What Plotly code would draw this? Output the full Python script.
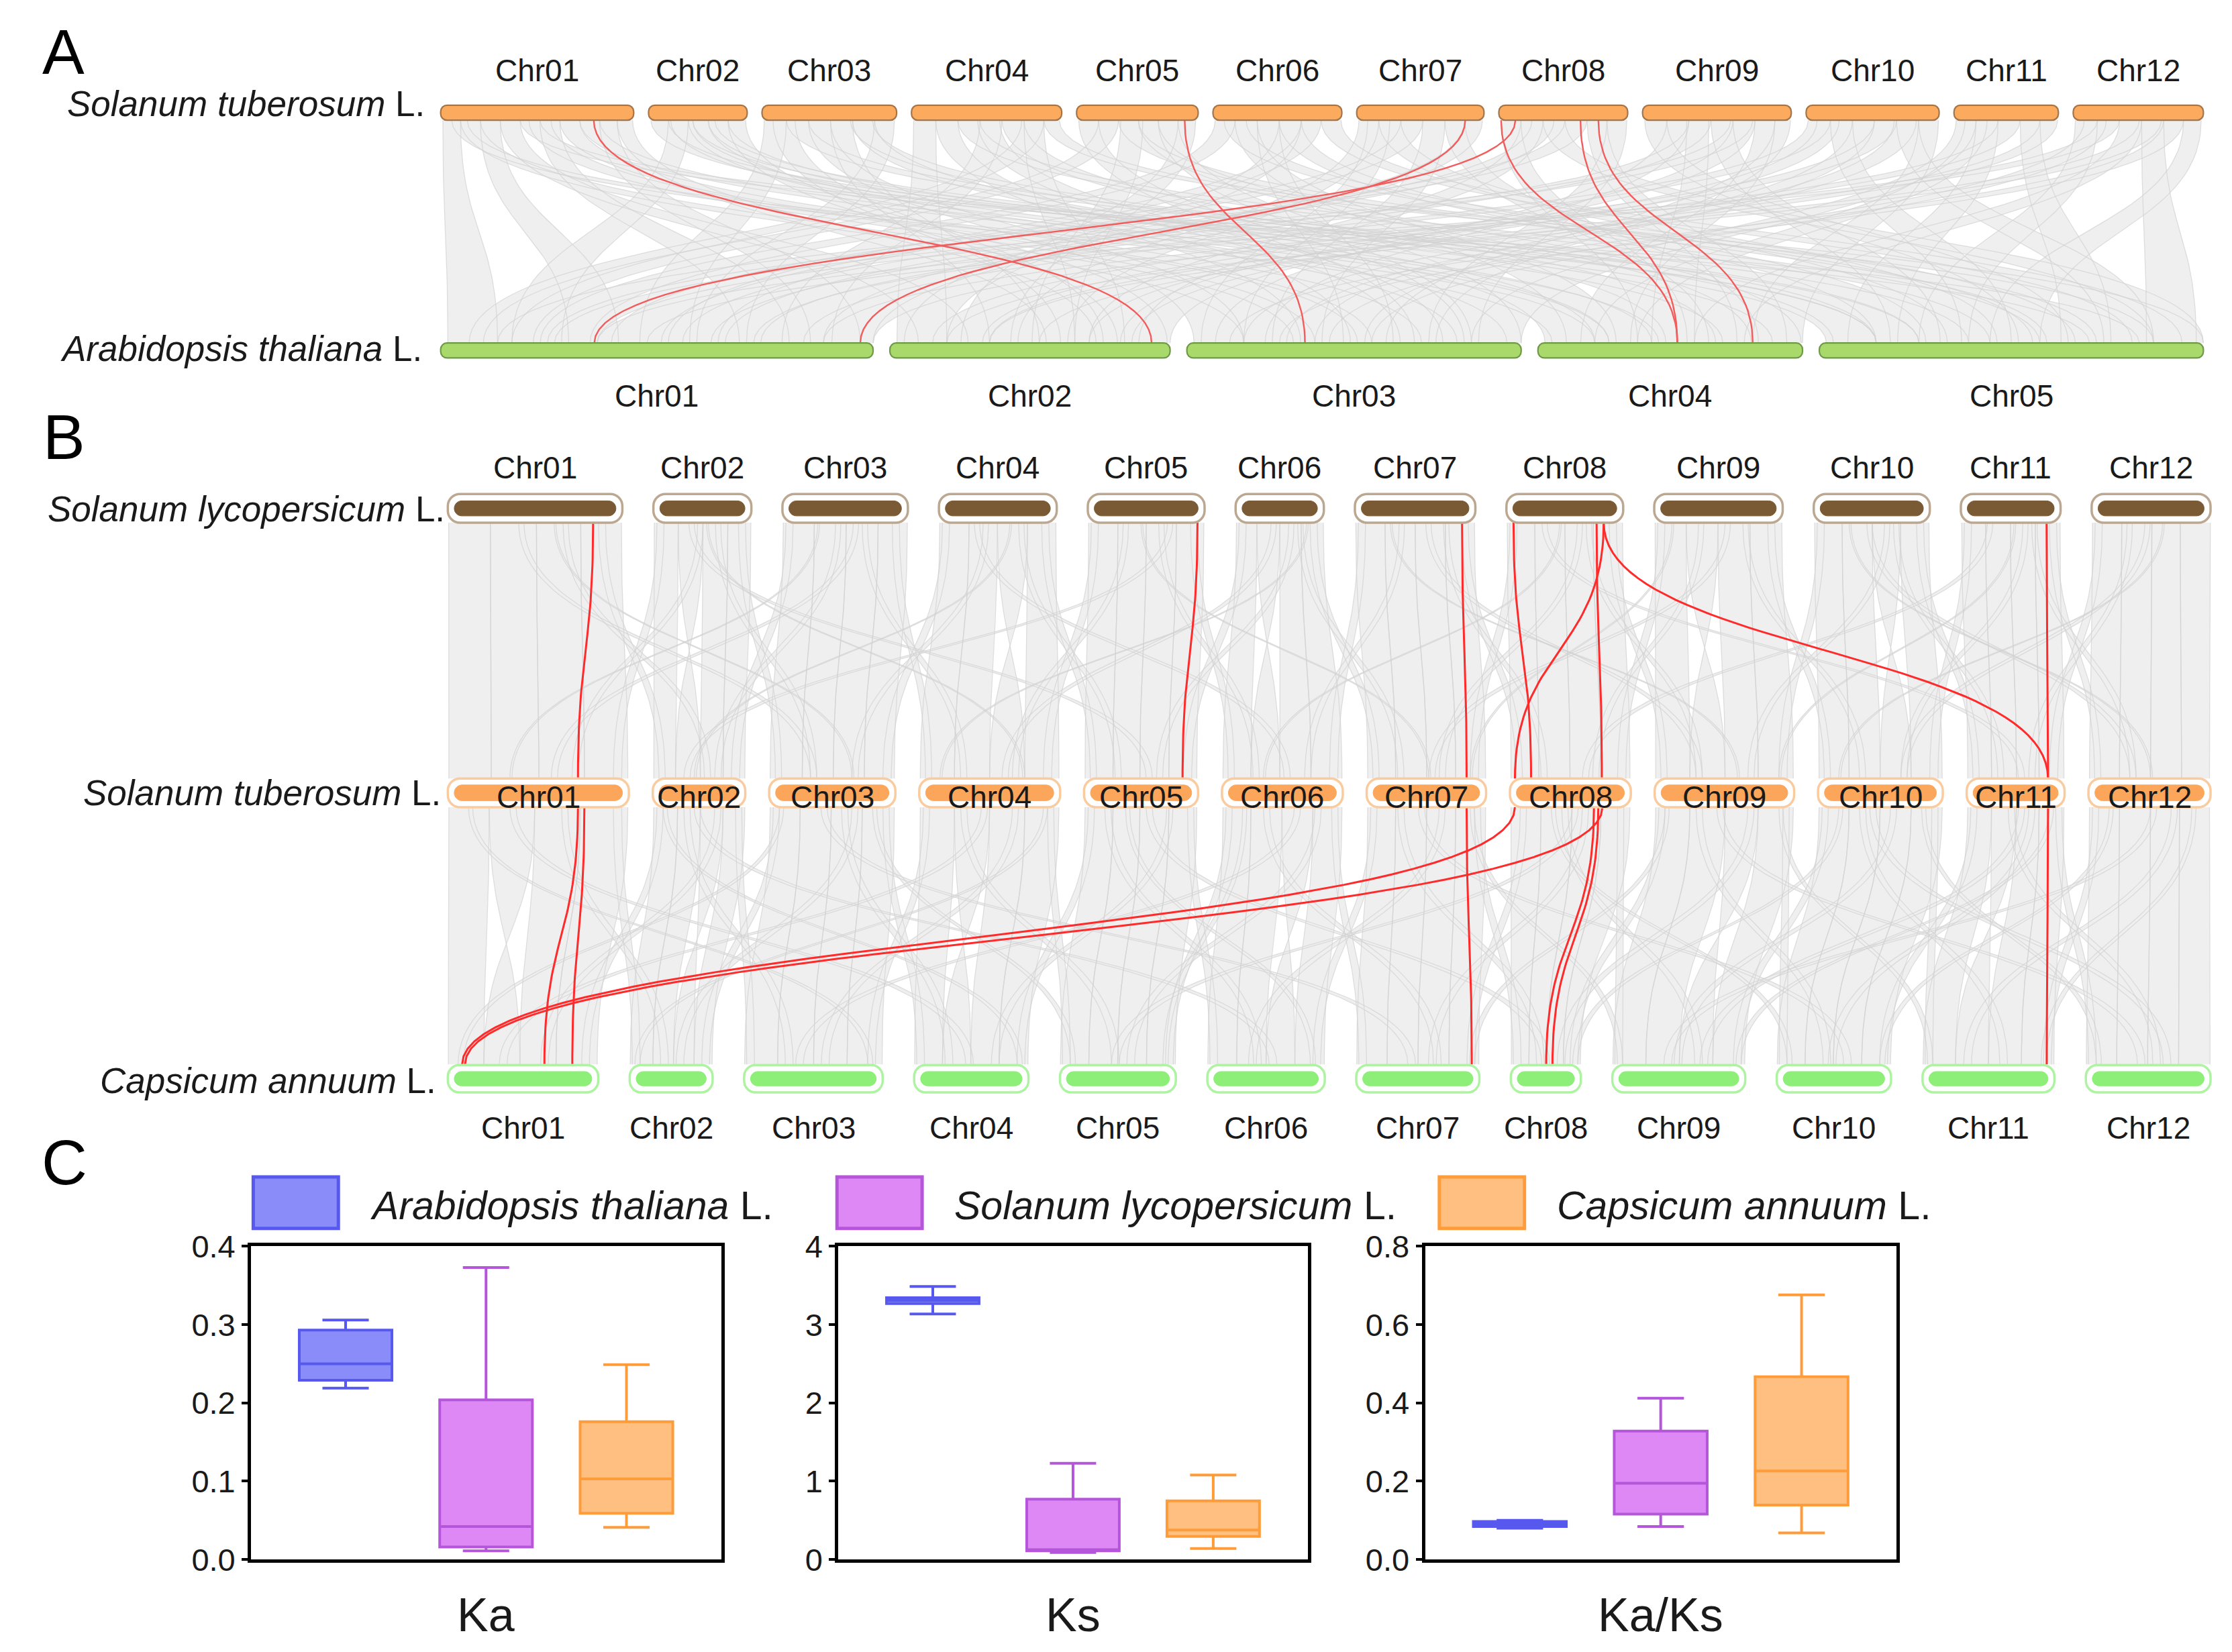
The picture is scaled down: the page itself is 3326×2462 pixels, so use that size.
import numpy as np
import plotly.graph_objects as go

FONT = "Liberation Sans, Arial, Helvetica, sans-serif"
W_PX, H_PX = 3326, 2462
U = 3326 / 1560.0            # pixels per layout unit (layout units follow the reference picture)
W_U = W_PX / U
# the photographed page shows the figure area between these pixel rows
SHOT_TOP, SHOT_H = 28.5, 2405.0
Y_TOP_U, Y_BOT_U = SHOT_TOP / U, (SHOT_TOP + SHOT_H) / U

def fy(y_u):                 # layout-unit row (from top) -> paper fraction (from bottom)
    return 1 - (y_u * U - SHOT_TOP) / SHOT_H

# ---------------- chromosome names and lengths (Mb) ----------------
CHR12 = ["Chr01", "Chr02", "Chr03", "Chr04", "Chr05", "Chr06",
         "Chr07", "Chr08", "Chr09", "Chr10", "Chr11", "Chr12"]
CHR5 = ["Chr01", "Chr02", "Chr03", "Chr04", "Chr05"]
ST_LEN = [87.5, 44.7, 61.0, 68.1, 55.1, 58.4, 57.7, 58.4, 67.4, 60.3, 47.3, 59.0]   # S. tuberosum
AT_LEN = [30.4, 19.7, 23.5, 18.6, 27.0]                                             # A. thaliana
SL_LEN = [98.5, 55.3, 70.8, 66.5, 65.9, 49.8, 68.0, 65.9, 72.5, 65.5, 56.3, 67.1]   # S. lycopersicum
CA_LEN = [292, 161, 269, 222, 225, 228, 239, 136, 258, 222, 256, 242]               # C. annuum

SP_ST = "<i>Solanum tuberosum</i> L."
SP_AT = "<i>Arabidopsis thaliana</i> L."
SP_SL = "<i>Solanum lycopersicum</i> L."
SP_CA = "<i>Capsicum annuum</i> L."

# ---------------- highlighted (red) gene pairs: (chrA, Mb, chrB, Mb) ----------------
A_RED = [(1, 69.4, 2, 18.4), (5, 49.0, 3, 8.3), (7, 49.2, 1, 29.5), (8, 7.5, 1, 10.8),
         (8, 1.0, 4, 9.8), (8, 37.0, 4, 9.8), (8, 45.1, 4, 15.1)]
B_RED_UP = [(1, 82.0, 1, 62.9), (5, 61.9, 5, 47.6), (7, 60.5, 7, 48.3), (8, 4.0, 8, 10.2),
            (8, 54.9, 8, 2.4), (8, 50.9, 8, 44.4), (8, 54.9, 11, 39.3), (11, 48.4, 11, 39.3)]
B_RED_LO = [(1, 62.9, 1, 187.5), (1, 66.0, 1, 241.7), (8, 2.4, 1, 27.8), (8, 44.7, 1, 33.3),
            (8, 40.6, 8, 68.6), (8, 42.7, 8, 80.8), (7, 48.3, 7, 224.2), (11, 39.3, 11, 241.1)]

# ---------------- background collinear blocks: (chrA, startA, endA, chrB, startB, endB) ----------------
A_GREY = [
    (1, 1, 9, 1, 0.5, 4.0), (1, 9, 18, 3, 4.0, 7.5), (1, 18, 27, 1, 9.0, 12.5), (1, 27, 36, 2, 2.0, 5.5),
    (1, 36, 45, 5, 19.0, 22.5), (1, 45, 54, 1, 21.0, 24.5), (1, 54, 63, 3, 13.0, 16.5), (1, 63, 72, 4, 5.0, 8.5),
    (1, 72, 80, 1, 26.0, 29.5), (1, 80, 87, 2, 11.0, 14.5),
    (2, 1, 9, 5, 0.5, 4.0), (2, 9, 18, 1, 5.0, 8.5), (2, 18, 27, 3, 19.0, 22.5), (2, 27, 36, 4, 13.0, 16.5),
    (2, 36, 44, 2, 16.0, 19.5),
    (3, 1, 11, 1, 14.0, 17.5), (3, 11, 21, 5, 7.0, 10.5), (3, 21, 31, 3, 0.5, 4.0), (3, 31, 41, 2, 7.0, 10.5),
    (3, 41, 51, 4, 0.5, 4.0), (3, 51, 60, 1, 18.0, 21.5),
    (4, 1, 11, 2, 0.5, 4.0), (4, 11, 21, 3, 8.0, 11.5), (4, 21, 31, 5, 12.0, 15.5), (4, 31, 41, 1, 24.0, 27.5),
    (4, 41, 51, 4, 9.0, 12.5), (4, 51, 60, 2, 13.0, 16.5), (4, 60, 67, 5, 23.5, 27.0),
    (5, 1, 10, 3, 16.0, 19.5), (5, 10, 19, 1, 3.0, 6.5), (5, 19, 28, 5, 16.0, 19.5), (5, 28, 37, 4, 15.0, 18.5),
    (5, 37, 46, 3, 20.0, 23.5), (5, 46, 54, 2, 5.0, 8.5),
    (6, 1, 10, 1, 7.0, 10.5), (6, 10, 20, 4, 2.0, 5.5), (6, 20, 30, 3, 11.0, 14.5), (6, 30, 40, 5, 4.0, 7.5),
    (6, 40, 49, 1, 16.0, 19.5), (6, 49, 58, 5, 22.0, 25.5),
    (7, 1, 10, 2, 9.0, 12.5), (7, 10, 20, 5, 9.0, 12.5), (7, 20, 30, 1, 12.0, 15.5), (7, 30, 40, 3, 6.0, 9.5),
    (7, 40, 49, 4, 12.0, 15.5), (7, 49, 57, 1, 26.9, 30.4),
    (8, 1, 10, 4, 7.0, 10.5), (8, 10, 20, 2, 14.0, 17.5), (8, 20, 30, 5, 23.5, 27.0), (8, 30, 40, 1, 4.0, 7.5),
    (8, 40, 49, 4, 14.0, 17.5), (8, 49, 58, 3, 17.0, 20.5),
    (9, 1, 11, 5, 14.0, 17.5), (9, 11, 21, 3, 2.0, 5.5), (9, 21, 31, 1, 19.0, 22.5), (9, 31, 41, 5, 5.0, 8.5),
    (9, 41, 51, 2, 16.2, 19.7), (9, 51, 60, 4, 3.0, 6.5), (9, 60, 67, 3, 14.0, 17.5),
    (10, 1, 11, 1, 22.0, 25.5), (10, 11, 21, 5, 10.0, 13.5), (10, 21, 31, 3, 9.0, 12.5), (10, 31, 41, 2, 3.0, 6.5),
    (10, 41, 51, 5, 20.0, 23.5), (10, 51, 60, 4, 15.1, 18.6),
    (11, 1, 10, 3, 20.0, 23.5), (11, 10, 20, 5, 2.0, 5.5), (11, 20, 30, 1, 26.9, 30.4), (11, 30, 39, 5, 17.0, 20.5),
    (11, 39, 47, 2, 7.0, 10.5),
    (12, 1, 11, 5, 7.0, 10.5), (12, 11, 21, 1, 11.0, 14.5), (12, 21, 31, 4, 11.0, 14.5), (12, 31, 41, 5, 23.0, 26.5),
    (12, 41, 50, 3, 3.0, 6.5), (12, 50, 58, 5, 12.0, 15.5),
    (1, 5, 12, 4, 1.0, 4.0), (2, 20, 30, 5, 4.0, 7.0), (3, 5, 15, 2, 12.0, 15.0), (4, 30, 40, 3, 15.0, 18.0),
    (5, 20, 30, 2, 10.0, 13.0), (6, 5, 15, 5, 15.0, 18.0), (7, 5, 15, 3, 1.0, 4.0), (8, 15, 25, 1, 17.0, 20.0),
    (9, 20, 30, 4, 8.0, 11.0), (10, 5, 15, 2, 14.0, 17.0), (11, 5, 15, 4, 4.0, 7.0), (12, 5, 15, 3, 10.0, 13.0),
    (2, 10, 20, 4, 5.0, 8.0), (4, 50, 60, 1, 2.0, 5.0), (6, 30, 40, 2, 1.0, 4.0), (9, 40, 50, 1, 8.0, 11.0),
    (10, 40, 50, 3, 4.0, 7.0), (12, 30, 40, 2, 4.0, 7.0), (3, 40, 50, 5, 1.0, 4.0), (1, 40, 50, 3, 9.0, 12.0),
]
B_GREY_UP = [
    (1, 0.5, 24, 1, 0.5, 21), (1, 24, 50, 1, 21, 44), (1, 50, 75, 1, 44, 66), (1, 75, 98, 1, 66, 87),
    (2, 0.5, 14, 2, 0.5, 11), (2, 14, 28, 2, 23, 11), (2, 28, 42, 2, 23, 34), (2, 42, 55, 2, 34, 44.5),
    (3, 0.5, 18, 3, 0.5, 16), (3, 18, 36, 3, 16, 31), (3, 36, 54, 3, 31, 46), (3, 54, 70.5, 3, 46, 60.5),
    (4, 0.5, 17, 4, 0.5, 17), (4, 17, 33, 4, 17, 34), (4, 33, 50, 4, 51, 34), (4, 50, 66, 4, 51, 67.5),
    (5, 0.5, 17, 5, 0.5, 14), (5, 17, 33, 5, 14, 27), (5, 33, 50, 5, 27, 41), (5, 50, 65.5, 5, 41, 54.5),
    (6, 0.5, 12, 6, 0.5, 14), (6, 12, 25, 6, 28, 14), (6, 25, 37, 6, 28, 43), (6, 37, 49.5, 6, 43, 58),
    (7, 0.5, 17, 7, 0.5, 14), (7, 17, 34, 7, 14, 29), (7, 34, 51, 7, 29, 43), (7, 51, 67.5, 7, 43, 57.5),
    (8, 0.5, 16, 8, 0.5, 14), (8, 16, 33, 8, 14, 29), (8, 33, 49, 8, 29, 44), (8, 49, 65.5, 8, 44, 58),
    (9, 0.5, 18, 9, 0.5, 17), (9, 18, 36, 9, 34, 17), (9, 36, 54, 9, 34, 50), (9, 54, 72, 9, 50, 67),
    (10, 0.5, 16, 10, 0.5, 15), (10, 16, 33, 10, 15, 30), (10, 33, 49, 10, 45, 30), (10, 49, 65, 10, 45, 60),
    (11, 0.5, 14, 11, 0.5, 12), (11, 14, 28, 11, 12, 24), (11, 28, 42, 11, 24, 35), (11, 42, 56, 11, 35, 47),
    (12, 0.5, 17, 12, 0.5, 15), (12, 17, 34, 12, 15, 30), (12, 34, 50, 12, 30, 45), (12, 50, 67, 12, 45, 58.5),
    (1, 85, 89, 2, 3, 6), (2, 2, 6, 1, 80, 84), (2, 48, 52, 3, 3, 6), (3, 2, 6, 2, 38, 42),
    (3, 62, 66, 4, 3, 6), (4, 2, 6, 3, 55, 59), (4, 58, 62, 5, 3, 6), (5, 2, 6, 4, 60, 64),
    (5, 58, 62, 6, 3, 6), (6, 2, 6, 5, 48, 52), (6, 42, 46, 7, 3, 6), (7, 2, 6, 6, 52, 56),
    (7, 60, 64, 8, 3, 6), (8, 2, 6, 7, 50, 54), (8, 58, 62, 9, 3, 6), (9, 2, 6, 8, 52, 56),
    (9, 64, 68, 10, 3, 6), (10, 2, 6, 9, 60, 64), (10, 58, 62, 11, 3, 6), (11, 2, 6, 10, 54, 58),
    (11, 50, 54, 12, 3, 6), (12, 2, 6, 11, 40, 44),
    (1, 65, 68, 2, 25, 28), (2, 25, 28, 1, 60, 63), (2, 35, 38, 3, 20, 23), (3, 30, 33, 2, 30, 33),
    (3, 45, 48, 4, 20, 23), (4, 25, 28, 3, 40, 43), (4, 45, 48, 5, 15, 18), (5, 20, 23, 4, 45, 48),
    (5, 40, 43, 6, 15, 18), (6, 30, 33, 5, 35, 38), (6, 35, 38, 7, 15, 18), (7, 25, 28, 6, 40, 43),
    (7, 50, 53, 8, 15, 18), (8, 40, 43, 7, 35, 38), (8, 45, 48, 9, 20, 23), (9, 25, 28, 8, 40, 43),
    (9, 50, 53, 10, 20, 23), (10, 40, 43, 9, 45, 48), (10, 45, 48, 11, 15, 18), (11, 35, 38, 10, 40, 43),
    (11, 40, 43, 12, 20, 23), (12, 20, 23, 11, 30, 33),
    (1, 40, 43, 3, 20, 23), (3, 40, 43, 1, 50, 53), (4, 20, 23, 6, 30, 33), (6, 20, 23, 4, 40, 43),
    (7, 40, 43, 9, 20, 23), (9, 40, 43, 7, 30, 33), (10, 30, 33, 12, 20, 23), (12, 30, 33, 10, 40, 43),
    (2, 20, 23, 5, 30, 33), (8, 20, 23, 11, 25, 28), (11, 15, 18, 8, 35, 38), (5, 45, 48, 2, 15, 18),
    (1, 60, 61, 3, 40, 41), (3, 20, 21, 1, 30, 31), (4, 40, 41, 2, 20, 21), (5, 30, 31, 7, 30, 31),
    (6, 40, 41, 4, 10, 11), (7, 20, 21, 9, 40, 41), (9, 10, 11, 7, 50, 51), (10, 20, 21, 12, 30, 31),
    (11, 30, 31, 9, 60, 61), (12, 40, 41, 10, 10, 11), (2, 30, 31, 4, 50, 51), (8, 30, 31, 6, 20, 21),
]
B_GREY_LO = [
    (1, 0.5, 20, 1, 1, 70), (1, 20, 42, 1, 140, 70), (1, 42, 64, 1, 140, 210), (1, 64, 87, 1, 210, 290),
    (2, 0.5, 12, 2, 1, 45), (2, 12, 23, 2, 45, 85), (2, 23, 34, 2, 125, 85), (2, 34, 44.5, 2, 125, 160),
    (3, 0.5, 15, 3, 1, 65), (3, 15, 30, 3, 65, 135), (3, 30, 45, 3, 135, 200), (3, 45, 60.5, 3, 200, 268),
    (4, 0.5, 17, 4, 1, 55), (4, 17, 34, 4, 110, 55), (4, 34, 51, 4, 110, 165), (4, 51, 67.5, 4, 165, 221),
    (5, 0.5, 14, 5, 1, 56), (5, 14, 27, 5, 56, 112), (5, 27, 41, 5, 112, 168), (5, 41, 54.5, 5, 168, 224),
    (6, 0.5, 14, 6, 1, 57), (6, 14, 29, 6, 57, 114), (6, 29, 44, 6, 170, 114), (6, 44, 58, 6, 170, 227),
    (7, 0.5, 14, 7, 1, 60), (7, 14, 29, 7, 60, 120), (7, 29, 43, 7, 120, 180), (7, 43, 57.5, 7, 180, 238),
    (8, 0.5, 15, 8, 1, 35), (8, 15, 30, 8, 35, 70), (8, 30, 44, 8, 70, 102), (8, 44, 58, 8, 102, 135),
    (9, 0.5, 17, 9, 1, 65), (9, 17, 34, 9, 65, 130), (9, 34, 50, 9, 195, 130), (9, 50, 67, 9, 195, 257),
    (10, 0.5, 15, 10, 1, 55), (10, 15, 30, 10, 55, 110), (10, 30, 45, 10, 110, 165), (10, 45, 60, 10, 165, 221),
    (11, 0.5, 12, 11, 1, 64), (11, 12, 24, 11, 128, 64), (11, 24, 35, 11, 128, 192), (11, 35, 47, 11, 192, 255),
    (12, 0.5, 15, 12, 1, 60), (12, 15, 30, 12, 60, 120), (12, 30, 44, 12, 120, 180), (12, 44, 58.5, 12, 180, 241),
    (1, 80, 84, 2, 5, 20), (2, 2, 5, 1, 260, 275), (2, 40, 43, 3, 5, 20), (3, 2, 5, 2, 140, 155),
    (3, 55, 58, 4, 5, 20), (4, 2, 5, 3, 240, 255), (4, 62, 65, 5, 5, 20), (5, 2, 5, 4, 200, 215),
    (5, 50, 53, 6, 5, 20), (6, 2, 5, 5, 205, 220), (6, 53, 56, 7, 5, 20), (7, 2, 5, 6, 205, 220),
    (7, 52, 55, 8, 5, 20), (8, 5, 8, 7, 215, 230), (8, 52, 55, 9, 5, 20), (9, 2, 5, 8, 115, 130),
    (9, 62, 65, 10, 5, 20), (10, 2, 5, 9, 235, 250), (10, 55, 58, 11, 5, 20), (11, 2, 5, 10, 200, 215),
    (11, 43, 46, 12, 5, 20), (12, 2, 5, 11, 235, 250),
    (1, 55, 58, 2, 60, 75), (2, 30, 33, 1, 180, 195), (2, 15, 18, 3, 80, 95), (3, 40, 43, 2, 90, 105),
    (3, 35, 38, 4, 60, 75), (4, 45, 48, 3, 150, 165), (4, 20, 23, 5, 100, 115), (5, 40, 43, 4, 150, 165),
    (5, 10, 13, 6, 90, 105), (6, 45, 48, 5, 130, 145), (6, 20, 23, 7, 150, 165), (7, 35, 38, 6, 80, 95),
    (7, 15, 18, 8, 50, 65), (8, 35, 38, 7, 140, 155), (8, 25, 28, 9, 160, 175), (9, 45, 48, 8, 90, 105),
    (9, 20, 23, 10, 90, 105), (10, 35, 38, 9, 120, 135), (10, 20, 23, 11, 150, 165), (11, 30, 33, 10, 100, 115),
    (11, 20, 23, 12, 130, 145), (12, 40, 43, 11, 80, 95),
    (1, 30, 33, 4, 100, 115), (4, 30, 33, 1, 100, 115), (5, 30, 33, 8, 60, 75), (8, 30, 33, 5, 100, 115),
    (9, 30, 33, 12, 100, 115), (12, 30, 33, 9, 100, 115), (10, 25, 28, 12, 150, 165), (11, 25, 28, 9, 170, 185),
    (2, 20, 23, 6, 120, 135), (6, 35, 38, 3, 100, 115), (7, 25, 28, 10, 130, 145), (3, 25, 28, 7, 100, 115),
    (1, 10, 12, 3, 240, 250), (3, 5, 7, 1, 20, 30), (2, 5, 7, 4, 200, 210), (4, 60, 62, 2, 10, 20),
    (5, 20, 22, 6, 200, 210), (6, 10, 12, 5, 200, 210), (7, 50, 52, 9, 10, 20), (9, 5, 7, 7, 220, 230),
    (9, 60, 62, 11, 10, 20), (11, 40, 42, 9, 240, 250), (10, 50, 52, 12, 20, 30), (12, 10, 12, 10, 200, 210),
    (12, 50, 52, 11, 230, 240), (8, 20, 22, 10, 20, 30), (3, 50, 52, 5, 20, 30), (10, 10, 12, 8, 120, 130),
]

# ---------------- Ka, Ks, Ka/Ks box statistics: [lower whisker, Q1, median, Q3, upper whisker] ----------------
BOX_SPECIES = ["Arabidopsis thaliana", "Solanum lycopersicum", "Capsicum annuum"]
BOX_FILL = ["#8A8CFA", "#DD88F4", "#FFBF80"]
BOX_LINE = ["#5658EE", "#B455DA", "#FF9C3A"]
KA = [[0.219, 0.229, 0.250, 0.293, 0.306],
      [0.011, 0.016, 0.042, 0.204, 0.373],
      [0.041, 0.059, 0.103, 0.176, 0.249]]
KS = [[3.136, 3.270, 3.310, 3.345, 3.487],
      [0.088, 0.110, 0.125, 0.770, 1.228],
      [0.141, 0.295, 0.376, 0.749, 1.078]]
KAKS = [[0.080, 0.084, 0.090, 0.097, 0.100],
        [0.084, 0.116, 0.195, 0.328, 0.412],
        [0.068, 0.139, 0.226, 0.467, 0.676]]
PANEL_TITLES = ["Ka", "Ks", "Ka/Ks"]
Y_MAX = [0.4, 4, 0.8]
Y_TICKS = [[0, 0.1, 0.2, 0.3, 0.4], [0, 1, 2, 3, 4], [0, 0.2, 0.4, 0.6, 0.8]]
Y_TICKTEXT = [["0.0", "0.1", "0.2", "0.3", "0.4"], ["0", "1", "2", "3", "4"],
              ["0.0", "0.2", "0.4", "0.6", "0.8"]]

# ---------------- geometry (layout units) ----------------
def row_layout(lengths, x0, x1, gap):
    scale = (x1 - x0 - gap * (len(lengths) - 1)) / sum(lengths)
    starts, x = [], x0
    for L in lengths:
        starts.append(x)
        x += L * scale + gap
    return dict(starts=starts, scale=scale, lengths=lengths)

R_A_ST = row_layout(ST_LEN, 308, 1540, 10.4)
R_A_AT = row_layout(AT_LEN, 308, 1540, 11.75)
R_B_SL = row_layout(SL_LEN, 313, 1545, 21.7)
R_B_ST = row_layout(ST_LEN, 313, 1545, 16.7)
R_B_CA = row_layout(CA_LEN, 313, 1545, 22.0)

def px(row, c, mb):
    return row["starts"][c - 1] + mb * row["scale"]

T = np.linspace(0, 1, 48)
B0, B1, B2, B3 = (1 - T) ** 3, 3 * (1 - T) ** 2 * T, 3 * (1 - T) * T ** 2, T ** 3

def bez(xa, ya, xb, yb):
    ym = (ya + yb) / 2
    return (B0 + B1) * xa + (B2 + B3) * xb, B0 * ya + (B1 + B2) * ym + B3 * yb

fig = go.Figure()

def add_grey(blocks, ra, rb, ya, yb):
    ex, ey = [], []
    for (ca, a0, a1, cb, b0, b1) in blocks:
        x1, y1 = bez(px(ra, ca, a0), ya, px(rb, cb, b0), yb)
        x2, y2 = bez(px(ra, ca, a1), ya, px(rb, cb, b1), yb)
        fig.add_trace(go.Scatter(x=np.concatenate([x1, x2[::-1]]), y=np.concatenate([y1, y2[::-1]]),
                                 mode="lines", fill="toself", fillcolor="#EFEFEF",
                                 line=dict(width=0, color="#EFEFEF"), hoverinfo="skip"))
        for xx, yy in ((x1, y1), (x2, y2)):
            ex += list(xx) + [None]
            ey += list(yy) + [None]
    fig.add_trace(go.Scatter(x=ex, y=ey, mode="lines", hoverinfo="skip",
                             line=dict(width=1.3, color="rgba(210,210,210,0.7)")))

def add_red(pairs, ra, rb, ya, yb, color, width):
    ex, ey = [], []
    for (ca, a, cb, b) in pairs:
        xx, yy = bez(px(ra, ca, a), ya, px(rb, cb, b), yb)
        ex += list(xx) + [None]
        ey += list(yy) + [None]
    fig.add_trace(go.Scatter(x=ex, y=ey, mode="lines", hoverinfo="skip",
                             line=dict(width=width, color=color)))

# row vertical geometry
Y_A_ST, Y_A_AT, H_A = 79.4, 245.3, 10.4
Y_B_SL, Y_B_ST, Y_B_CA, H_B = 355.5, 554.0, 753.5, 20.0

add_grey(A_GREY, R_A_ST, R_A_AT, Y_A_ST + H_A / 2, Y_A_AT - H_A / 2)
add_grey(B_GREY_UP, R_B_SL, R_B_ST, Y_B_SL + H_B / 2, Y_B_ST - H_B / 2)
add_grey(B_GREY_LO, R_B_ST, R_B_CA, Y_B_ST + H_B / 2, Y_B_CA - H_B / 2)
add_red(A_RED, R_A_ST, R_A_AT, Y_A_ST + H_A / 2, Y_A_AT - H_A / 2, "#F25C5C", 2.4)
add_red(B_RED_UP, R_B_SL, R_B_ST, Y_B_SL + H_B / 2, Y_B_ST - H_B / 2, "#FF2A2A", 3.0)
add_red(B_RED_LO, R_B_ST, R_B_CA, Y_B_ST + H_B / 2, Y_B_CA - H_B / 2, "#FF2A2A", 3.0)

# ---------------- chromosome bars ----------------
def pill(x0, x1, yc, h, r):
    y0, y1 = yc - h / 2, yc + h / 2
    r = min(r, h / 2, (x1 - x0) / 2)
    k = 0.5523 * r
    return (f"M{x0+r},{y0} L{x1-r},{y0} C{x1-r+k},{y0} {x1},{y0+r-k} {x1},{y0+r} "
            f"L{x1},{y1-r} C{x1},{y1-r+k} {x1-r+k},{y1} {x1-r},{y1} "
            f"L{x0+r},{y1} C{x0+r-k},{y1} {x0},{y1-r+k} {x0},{y1-r} "
            f"L{x0},{y0+r} C{x0},{y0+r-k} {x0+r-k},{y0} {x0+r},{y0} Z")

shapes = []
def bars_simple(row, yc, h, fill, edge):
    for i, L in enumerate(row["lengths"]):
        x0 = row["starts"][i]
        x1 = x0 + L * row["scale"]
        shapes.append(dict(type="path", xref="x", yref="y", path=pill(x0, x1, yc, h, h * 0.42),
                           fillcolor=fill, line=dict(color=edge, width=2.2), layer="above"))

def bars_rim(row, yc, h, inner_h, rim, inner):
    for i, L in enumerate(row["lengths"]):
        x0 = row["starts"][i]
        x1 = x0 + L * row["scale"]
        shapes.append(dict(type="path", xref="x", yref="y", path=pill(x0, x1, yc, h, h * 0.42),
                           fillcolor="#FFFFFF", line=dict(color=rim, width=3.5), layer="above"))
        shapes.append(dict(type="path", xref="x", yref="y",
                           path=pill(x0 + 4.5, x1 - 4.5, yc, inner_h, inner_h / 2),
                           fillcolor=inner, line=dict(color=inner, width=1), layer="above"))

bars_simple(R_A_ST, Y_A_ST, H_A, "#FBAA5E", "#A57548")
bars_simple(R_A_AT, Y_A_AT, H_A, "#A8D96A", "#6E9A48")
bars_rim(R_B_SL, Y_B_SL, H_B, 10.5, "#BCA791", "#7A5A35")
bars_rim(R_B_ST, Y_B_ST, H_B, 11.0, "#FACB9F", "#FBA65A")
bars_rim(R_B_CA, Y_B_CA, 19.0, 10.0, "#AEF3A2", "#8DEF78")

# ---------------- text ----------------
ann = []
def text(x, y, s, size, xanchor="center", color="#1A1A1A"):
    ann.append(dict(x=x, y=y, xref="x", yref="y", text=s, showarrow=False, xanchor=xanchor,
                    yanchor="middle", font=dict(family=FONT, size=size, color=color)))

def chr_labels(row, names, y, size=46):
    for i, L in enumerate(row["lengths"]):
        text(row["starts"][i] + L * row["scale"] / 2, y, names[i], size)

chr_labels(R_A_ST, CHR12, 50)
chr_labels(R_A_AT, CHR5, 277)
chr_labels(R_B_SL, CHR12, 327)
chr_labels(R_B_ST, CHR12, 557)
chr_labels(R_B_CA, CHR12, 788)

text(298, 73, SP_ST, 53, "right")
text(296, 244, SP_AT, 53, "right")
text(312, 356, SP_SL, 53, "right")
text(309, 554, SP_ST, 53, "right")
text(306, 755, SP_CA, 53, "right")

text(44.5, 37, "A", 94, color="#000000")
text(45, 306, "B", 94, color="#000000")
text(45, 812, "C", 94, color="#000000")

# legend of panel C
LEG_X = [177, 585, 1006]
for i, sp in enumerate(BOX_SPECIES):
    shapes.append(dict(type="rect", xref="x", yref="y", x0=LEG_X[i], x1=LEG_X[i] + 59.5,
                       y0=822, y1=858, fillcolor=BOX_FILL[i],
                       line=dict(color=BOX_LINE[i], width=5), layer="above"))
    text(LEG_X[i] + 81, 842, f"<i>{sp}</i> L.", 59, "left")

# ---------------- box plots ----------------
AX_X = [(175.5, 504.0), (586.0, 914.0), (996.0, 1325.5)]
AX_Y = (870.5, 1089.0)
STATS = [KA, KS, KAKS]
layout_axes = {}
for p in range(3):
    xa, ya = f"x{p+2}", f"y{p+2}"
    for s in range(3):
        lf, q1, md, q3, uf = STATS[p][s]
        fig.add_trace(go.Box(x=[s], q1=[q1], median=[md], q3=[q3], lowerfence=[lf], upperfence=[uf],
                             xaxis=xa, yaxis=ya, width=0.66, whiskerwidth=0.5,
                             fillcolor=BOX_FILL[s], line=dict(color=BOX_LINE[s], width=4),
                             boxpoints=False, hoverinfo="skip"))
    layout_axes[f"xaxis{p+2}"] = dict(domain=[AX_X[p][0] / W_U, AX_X[p][1] / W_U], range=[-0.673, 2.674],
                                      anchor=ya, showticklabels=False, ticks="", showgrid=False,
                                      zeroline=False, showline=True, mirror=True, linecolor="#000000",
                                      linewidth=5, fixedrange=True)
    layout_axes[f"yaxis{p+2}"] = dict(domain=[fy(AX_Y[1]), fy(AX_Y[0])], range=[0, Y_MAX[p]],
                                      anchor=xa, tickvals=Y_TICKS[p], ticktext=Y_TICKTEXT[p],
                                      ticks="outside", ticklen=9, tickwidth=4, tickcolor="#000000",
                                      showgrid=False, zeroline=False, showline=True, mirror=True,
                                      linecolor="#000000", linewidth=5, fixedrange=True,
                                      tickfont=dict(family=FONT, size=47, color="#1A1A1A"))
    text((AX_X[p][0] + AX_X[p][1]) / 2, 1128, PANEL_TITLES[p], 70)

fig.update_layout(
    width=W_PX, height=H_PX, autosize=False, showlegend=False,
    margin=dict(l=0, r=0, t=0, b=0, pad=0),
    paper_bgcolor="#FFFFFF", plot_bgcolor="rgba(0,0,0,0)",
    xaxis=dict(domain=[0, 1], range=[0, W_U], visible=False, fixedrange=True),
    yaxis=dict(domain=[0, 1], range=[Y_BOT_U, Y_TOP_U], visible=False, fixedrange=True),
    shapes=shapes, annotations=ann, font=dict(family=FONT),
    **layout_axes,
)
fig.write_html("out.html", config={"responsive": False, "displayModeBar": False},
               post_script="document.body.style.margin='0px';document.body.style.overflow='hidden';")
